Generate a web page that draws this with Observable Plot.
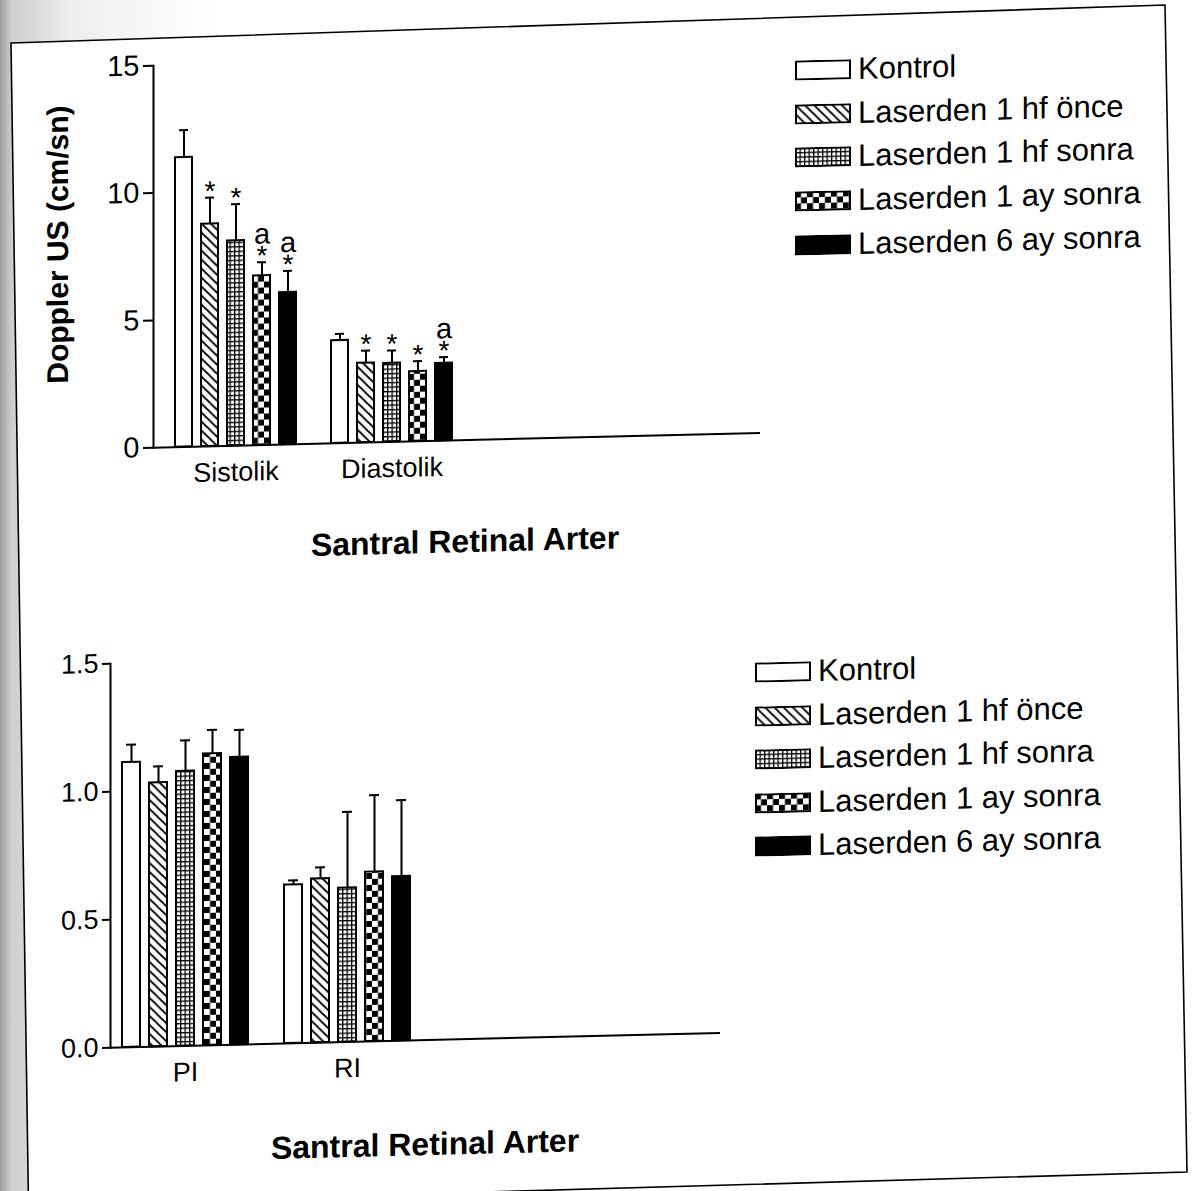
<!DOCTYPE html>
<html><head><meta charset="utf-8">
<script src="https://cdn.jsdelivr.net/npm/d3@7"></script>
<script src="https://cdn.jsdelivr.net/npm/@observablehq/plot@0.6"></script>
<style>
body{margin:0;background:#fff;}
#page{position:relative;width:1198px;height:1191px;overflow:hidden;font-family:"Liberation Sans",Arial,sans-serif;color:#000;background:#fff;}
#skew{position:absolute;left:0;top:0;width:1198px;height:1191px;transform:skewY(-1.4deg);transform-origin:0 0;}
.title{font-weight:bold;font-size:32px;white-space:nowrap;transform:translate(-50%,-50%);}
.ylab{font-weight:bold;font-size:30px;white-space:nowrap;transform:translate(-50%,-50%) rotate(-90deg);}
.lrow{position:absolute;display:flex;align-items:center;white-space:nowrap;font-size:31px;transform:translateY(-50%);}
.lrow svg{margin-right:7px;flex:none;}
#border{position:absolute;left:0;top:0;pointer-events:none;}
</style></head><body>
<div id="page">
<svg width="0" height="0" style="position:absolute">
<defs>
<pattern id="p-hatch" patternUnits="userSpaceOnUse" width="9" height="9">
<rect width="9" height="9" fill="#fff"/>
<path d="M-2,-2L11,11M-2,7L2,11M7,-2L11,2" stroke="#000" stroke-width="1.9"/>
</pattern>
<pattern id="p-grid" patternUnits="userSpaceOnUse" width="4.5" height="4.5">
<rect width="4.5" height="4.5" fill="#000"/>
<rect x="1.3" y="1.3" width="3.2" height="3.2" fill="#fff"/>
</pattern>
<pattern id="p-check" patternUnits="userSpaceOnUse" width="12" height="12">
<rect width="12" height="12" fill="#fff"/>
<rect width="6" height="6" fill="#000"/><rect x="6" y="6" width="6" height="6" fill="#000"/>
</pattern>
<linearGradient id="shade" x1="0" x2="1" y1="0" y2="0">
<stop offset="0" stop-color="#a0a0a0"/>
<stop offset="0.01" stop-color="#cfcfcf"/>
<stop offset="0.06" stop-color="#eeeeee"/>
<stop offset="0.18" stop-color="#ffffff"/>
</linearGradient>
</defs>
</svg>
<div id="skew"></div>
<svg id="border" width="1198" height="1191">
<path d="M0,0H1198V1191H0Z M11,43 L1165,5 L1187,1172 L28.5,1205 Z" fill="url(#shade)" fill-rule="evenodd"/>
<path d="M11,43 L1165,5 L1187,1172 L28.5,1205 Z" fill="none" stroke="#000" stroke-width="1.6"/>
</svg>
</div>
<script>
// ---------- data ----------
const series = ["Kontrol", "Laserden 1 hf önce", "Laserden 1 hf sonra", "Laserden 1 ay sonra", "Laserden 6 ay sonra"];
const seriesFill = ["#ffffff", "url(#p-hatch)", "url(#p-grid)", "url(#p-check)", "#000000"];

const topGroups = ["Sistolik", "Diastolik"];
const sistolikMean = [11.37, 8.73, 8.05, 6.65, 5.97];
const sistolikSD   = [1.07, 1.04, 1.44, 0.53, 0.85];
const diastolikMean = [4.03, 3.12, 3.09, 2.74, 3.04];
const diastolikSD   = [0.26, 0.49, 0.50, 0.41, 0.24];
const sistolikSig  = ["", "*", "*", "a*", "a*"];
const diastolikSig = ["", "*", "*", "*", "a*"];
const topYTicks = [0, 5, 10, 15];
const topYLabel = "Doppler US (cm/sn)";
const topTitle = "Santral Retinal Arter";

const bottomGroups = ["PI", "RI"];
const piMean = [1.113, 1.031, 1.073, 1.139, 1.123];
const piSD   = [0.069, 0.064, 0.121, 0.093, 0.107];
const riMean = [0.619, 0.640, 0.602, 0.662, 0.641];
const riSD   = [0.018, 0.045, 0.297, 0.300, 0.299];
const piSig = ["", "", "", "", ""];
const riSig = ["", "", "", "", ""];
const bottomYTicks = [0, 0.5, 1.0, 1.5];
const bottomTitle = "Santral Retinal Arter";

// ---------- helpers ----------
const FONT = '"Liberation Sans",Arial,sans-serif';
const skewBox = document.getElementById("skew");

function buildRows(groups, means, sds, sigs) {
  const rows = [];
  groups.forEach((g, gi) => series.forEach((s, si) => {
    rows.push({group: g, series: s, si, key: g + "|" + si,
      value: means[gi][si], err: sds[gi][si], hi: means[gi][si] + sds[gi][si], sig: sigs[gi][si]});
  }));
  return rows;
}

function buildDomain(groups, nSlots) {
  const dom = [];
  groups.forEach((g, gi) => {
    if (gi > 0) dom.push("gap" + gi);
    series.forEach((s, si) => dom.push(g + "|" + si));
  });
  let k = 0;
  while (dom.length < nSlots) dom.push("pad" + (k++));
  return dom;
}

function makeChart(o) {
  const rows = buildRows(o.groups, o.means, o.sds, o.sigs);
  const domain = buildDomain(o.groups, 22);
  const labelMap = new Map(o.groups.map(g => [g + "|2", g]));
  return Plot.plot({
    width: o.width, height: o.height,
    marginLeft: o.marginLeft, marginRight: 10, marginTop: o.marginTop, marginBottom: o.marginBottom,
    style: {fontFamily: FONT, color: "#000", background: "transparent", overflow: "visible"},
    x: {type: "band", domain, paddingInner: 0.33, paddingOuter: 0.45},
    y: {domain: o.yDomain},
    marks: [
      Plot.frame({anchor: "left", strokeWidth: 2}),
      Plot.axisY({ticks: o.yTicks, tickSize: o.tickSize, tickPadding: o.tickPadding,
        tickFormat: o.tickFormat, fontSize: o.tickFontSize, strokeWidth: 2, label: null}),
      Plot.axisX({tickSize: 0, tickPadding: 16, fontSize: 27, label: null,
        tickFormat: k => labelMap.get(k) ?? ""}),
      ...series.map((s, i) => Plot.barY(rows.filter(r => r.si === i),
        {x: "key", y: "value", fill: seriesFill[i], stroke: "#000", strokeWidth: 2})),
      Plot.ruleX(rows, {x: "key", y1: "value", y2: "hi", strokeWidth: 2}),
      Plot.tickY(rows, {x: "key", y: "hi", insetLeft: 4, insetRight: 4, strokeWidth: 2}),
      Plot.ruleY([0], {strokeWidth: 2}),
      Plot.text(rows.filter(r => r.sig.includes("*")), {x: "key", y: "hi", text: () => "*", fontSize: 28, dy: -6}),
      Plot.text(rows.filter(r => r.sig.includes("a")), {x: "key", y: "hi", text: () => "a", fontSize: 29, dy: -28})
    ]
  });
}

function place(el, left, topPos) {
  el.style.position = "absolute";
  el.style.left = left + "px";
  el.style.top = topPos + "px";
  skewBox.appendChild(el);
  return el;
}

function legend(left, top0, step) {
  series.forEach((s, i) => {
    const row = document.createElement("div");
    row.className = "lrow";
    row.innerHTML = `<svg width="56" height="20"><rect x="1" y="1" width="54" height="18" fill="${seriesFill[i]}" stroke="#000" stroke-width="2"/></svg><span>${s}</span>`;
    place(row, left, top0 + i * step);
  });
}

function textDiv(cls, txt, x, y) {
  const d = document.createElement("div");
  d.className = cls;
  d.textContent = txt;
  place(d, x, y);
}

// ---------- top chart ----------
const topChart = makeChart({
  groups: topGroups, means: [sistolikMean, diastolikMean], sds: [sistolikSD, diastolikSD],
  sigs: [sistolikSig, diastolikSig], yDomain: [0, 15], yTicks: topYTicks,
  tickFormat: d3.format("d"), tickSize: 10, tickPadding: 4, tickFontSize: 29,
  width: 770, height: 510, marginLeft: 153, marginTop: 69, marginBottom: 59
});
place(topChart, 0, 0);
textDiv("ylab", topYLabel, 58, 246);
textDiv("title", topTitle, 465, 553);
legend(795, 90, 43.7);

// ---------- bottom chart ----------
const bottomChart = makeChart({
  groups: bottomGroups, means: [piMean, riMean], sds: [piSD, riSD],
  sigs: [piSig, riSig], yDomain: [0, 1.5], yTicks: bottomYTicks,
  tickFormat: d3.format(".1f"), tickSize: 8, tickPadding: 4, tickFontSize: 27,
  width: 730, height: 510, marginLeft: 110, marginTop: 66, marginBottom: 60
});
place(bottomChart, 0, 600);
textDiv("title", bottomTitle, 425, 1155);
legend(755, 691, 43.5);
</script>
</body></html>
